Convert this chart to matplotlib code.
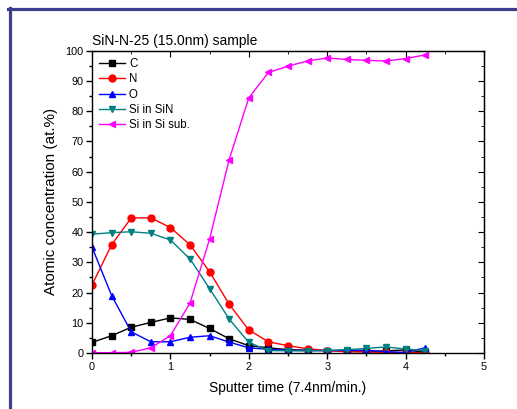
import numpy as np
import matplotlib.pyplot as plt
from matplotlib.lines import Line2D
from matplotlib.ticker import MultipleLocator

plt.rcParams['font.family'] = ['Liberation Sans', 'DejaVu Sans']

# depth profile, sputter time in minutes
t = [0, 0.25, 0.5, 0.75, 1.0, 1.25, 1.5, 1.75, 2.0, 2.25, 2.5, 2.75, 3.0, 3.25, 3.5, 3.75, 4.0, 4.25]
c = [3.5, 5.7, 8.5, 10.1, 11.6, 11.1, 8.1, 4.7, 2.4, 1.7, 1.1, 0.9, 0.8, 0.8, 0.5, 0.7, 1.0, 0.2]
n = [22.5, 35.8, 44.7, 44.7, 41.5, 35.8, 26.9, 16.1, 7.6, 3.7, 2.4, 1.4, 0.8, 0.4, 0.3, 0.2, 0.1, 0.1]
o = [35.0, 19.0, 7.0, 3.7, 3.7, 5.2, 5.7, 3.6, 1.7, 1.2, 0.9, 0.8, 0.8, 0.8, 0.9, 0.4, 0.2, 1.7]
si_sin = [39.3, 39.8, 40.1, 39.6, 37.4, 31.1, 21.3, 11.2, 3.5, 0.8, 0.7, 0.7, 0.8, 1.1, 1.5, 2.0, 1.3, 0.7]
si_sub = [0.1, 0.1, 0.2, 1.7, 5.7, 16.5, 37.7, 64.0, 84.4, 92.8, 94.9, 96.6, 97.6, 97.1, 96.8, 96.6, 97.4, 98.6]

fig = plt.figure(figsize=(5.17, 4.09), dpi=100)
ax = fig.add_axes([0.178, 0.137, 0.758, 0.739])

ms = 4.5
ax.plot(t, c, '-s', color='black', ms=ms, lw=1, label='C')
ax.plot(t, n, '-o', color='red', ms=ms+0.5, lw=1, label='N')
ax.plot(t, o, '-^', color='blue', ms=ms+0.5, lw=1, label='O')
ax.plot(t, si_sin, '-v', color='#008080', ms=ms+0.5, lw=1, label='Si in SiN')
ax.plot(t, si_sub, '-<', color='magenta', ms=ms+0.5, lw=1, label='Si in Si sub.')

ax.set_xlim(0, 5)
ax.set_ylim(0, 100)
ax.xaxis.set_major_locator(MultipleLocator(1))
ax.xaxis.set_minor_locator(MultipleLocator(0.5))
ax.yaxis.set_major_locator(MultipleLocator(10))
ax.yaxis.set_minor_locator(MultipleLocator(5))
ax.tick_params(which='both', direction='out', labelsize=7.8, width=1)
ax.tick_params(which='major', length=4.3, pad=2)
ax.tick_params(which='minor', length=2.2)
for s in ax.spines.values():
    s.set_linewidth(1)

# mirrored ticks on top and right, pointing inward
sec_x = ax.secondary_xaxis('top')
sec_x.xaxis.set_major_locator(MultipleLocator(1))
sec_x.xaxis.set_minor_locator(MultipleLocator(0.5))
sec_x.tick_params(which='both', direction='in', labeltop=False)
sec_x.tick_params(which='major', length=4)
sec_x.tick_params(which='minor', length=2.5)
sec_y = ax.secondary_yaxis('right')
sec_y.yaxis.set_major_locator(MultipleLocator(10))
sec_y.yaxis.set_minor_locator(MultipleLocator(5))
sec_y.tick_params(which='both', direction='in', labelright=False)
sec_y.tick_params(which='major', length=4)
sec_y.tick_params(which='minor', length=2.5)

ax.set_xlabel('Sputter time (7.4nm/min.)', fontsize=10, labelpad=7)
ax.set_ylabel('Atomic concentration (at.%)', fontsize=11, labelpad=5)
ax.set_title('SiN-N-25 (15.0nm) sample', fontsize=10, loc='left', pad=4)

ax.legend(loc='upper left', frameon=False, fontsize=8.3, handlelength=2.3,
          handletextpad=0.3, labelspacing=0.3, borderaxespad=0.1, borderpad=0.5)

# outer frame
fc = '#3c3e8e'
fig.add_artist(Line2D([9.5/517, 9.5/517], [0, 1 - 8/409], transform=fig.transFigure, color=fc, lw=2.3))
fig.add_artist(Line2D([8/517, 1], [1 - 9/409, 1 - 9/409], transform=fig.transFigure, color=fc, lw=2.3))

fig.savefig('out.png', dpi=100)
